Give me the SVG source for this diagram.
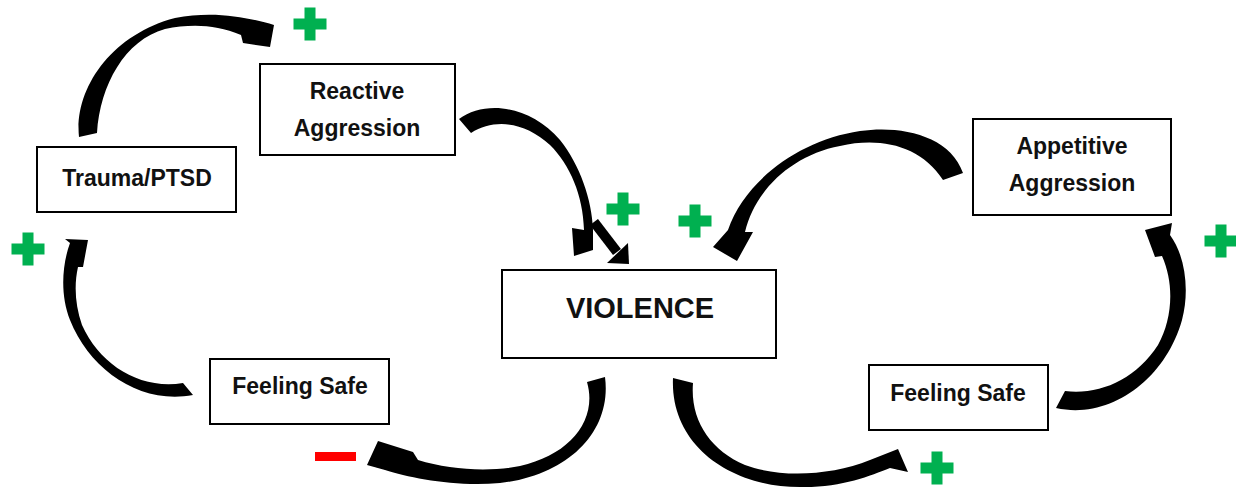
<svg xmlns="http://www.w3.org/2000/svg" width="1236" height="493" viewBox="0 0 1236 493">
<defs>
<style>
.box{fill:#fff;stroke:#000;stroke-width:2}
.t{font-family:"Liberation Sans",Arial,sans-serif;font-weight:bold;font-size:23px;fill:#111;text-anchor:middle}
.big{font-size:29px}
.arr{fill:#000;stroke:none}
.plus{fill:#00B050}
.minus{fill:#FF0000}
</style>
<path id="plusShape" d="M-5.5,-16.5 h11 v11 h11 v11 h-11 v11 h-11 v-11 h-11 v-11 h11 z"/>
</defs>
<g id="connectors">
<path class="arr" d="M79,137 C74,90 110,35 175,18 C215,10 250,18 274,25 L270,47 L243,43 L241,35 C215,24 190,24 165,29 C125,40 100,85 97,133 Z"/>
<path class="arr" d="M459,119 C485,100 530,105 560,140 C580,165 592,200 593,230 L593,250 L574,256 L572,228 L584,230 C583,195 570,165 550,145 C525,122 495,118 471,133 Z"/>
<line x1="594" y1="222" x2="617" y2="252" stroke="#000" stroke-width="10"/>
<polygon class="arr" points="628,243 629,264 607,263"/>
<path class="arr" d="M963,173 C950,135 900,125 860,131 C800,140 745,180 728,230 L713,247 L737,261 L753,232 L745,232 C755,190 792,155 840,146 C880,137 920,145 943,180 Z"/>
<path class="arr" d="M193,395 C140,405 90,370 70,320 C60,295 62,265 70,243 L65,239 L88,240 L83,267 L78,267 C74,285 75,305 82,325 C100,365 140,390 183,383 Z"/>
<path class="arr" d="M605,377 C612,430 570,475 500,483 C455,487 410,478 385,470 L367,465 L378,441 L413,452 L418,460 C450,470 490,472 520,466 C570,455 598,420 587,382 Z"/>
<path class="arr" d="M673,378 C670,445 730,487 800,487 C840,488 870,476 890,468 L908,472 L898,449 L870,460 C830,476 780,478 745,465 C710,450 690,420 693,383 Z"/>
<path class="arr" d="M1056,408 C1110,420 1165,380 1182,320 C1190,290 1185,255 1170,235 L1172,223 L1145,230 L1155,257 L1162,256 C1175,285 1172,320 1158,345 C1135,380 1100,395 1065,391 Z"/>
</g>
<g id="signs">
<use href="#plusShape" class="plus" x="310" y="24"/>
<use href="#plusShape" class="plus" x="623" y="209"/>
<use href="#plusShape" class="plus" x="695" y="221"/>
<use href="#plusShape" class="plus" x="28" y="249"/>
<use href="#plusShape" class="plus" x="1221" y="241"/>
<use href="#plusShape" class="plus" x="937" y="468"/>
<rect class="minus" x="315" y="452" width="41" height="9"/>
</g>
<g id="reactive">
<rect class="box" x="260" y="64" width="195" height="91"/>
<text class="t" x="357" y="99">Reactive</text>
<text class="t" x="357" y="136">Aggression</text>
</g>
<g id="trauma">
<rect class="box" x="37" y="147" width="199" height="65"/>
<text class="t" x="137" y="186">Trauma/PTSD</text>
</g>
<g id="violence">
<rect class="box" x="502" y="270" width="274" height="88"/>
<text class="t big" x="640" y="318">VIOLENCE</text>
</g>
<g id="appetitive">
<rect class="box" x="973" y="119" width="198" height="96"/>
<text class="t" x="1072" y="154">Appetitive</text>
<text class="t" x="1072" y="191">Aggression</text>
</g>
<g id="safe-left">
<rect class="box" x="210" y="359" width="179" height="65"/>
<text class="t" x="300" y="394">Feeling Safe</text>
</g>
<g id="safe-right">
<rect class="box" x="869" y="365" width="179" height="65"/>
<text class="t" x="958" y="401">Feeling Safe</text>
</g>
</svg>
